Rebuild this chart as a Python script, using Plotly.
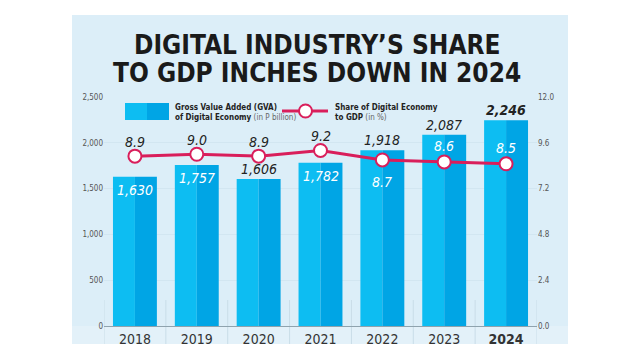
import plotly.graph_objects as go

years = ["2018", "2019", "2020", "2021", "2022", "2023", "2024"]
gva = [1630, 1757, 1606, 1782, 1918, 2087, 2246]
share = [8.9, 9.0, 8.9, 9.2, 8.7, 8.6, 8.5]
gva_ticks = [0, 500, 1000, 1500, 2000, 2500]
share_ticks = [0.0, 2.4, 4.8, 7.2, 9.6, 12.0]

# label styles (placement), not data
gva_label_style = ["in", "in", "out", "in", "out", "out", "out"]
share_label_style = ["above", "above", "above", "above", "below_in", "above_in", "above_in"]

FONT = "Liberation Sans Narrow, DejaVu Sans Condensed, Roboto, sans-serif"
LIGHT = "#0DBDF2"
DARK = "#00A5E5"
PINK = "#D91E5B"

# page body has an 8px margin: work in reference pixel coords minus 8
OFF = 8
W, H = 640 - OFF, 360 - OFF
L = 104 - OFF
T = 97 - OFF
R = W - (537 - OFF)
B = H - (326 - OFF)
pw, ph = W - L - R, H - T - B


def px(x):
    return (x - OFF - L) / pw


def py(y):
    return (H - B - (y - OFF)) / ph


fig = go.Figure()
fig.add_trace(go.Bar(x=years, y=gva, marker_color=LIGHT, marker_line_width=0,
                     width=0.355, offset=-0.355, showlegend=False, hoverinfo="skip"))
fig.add_trace(go.Bar(x=years, y=gva, marker_color=DARK, marker_line_width=0,
                     width=0.355, offset=0.0, showlegend=False))
fig.add_trace(go.Scatter(x=years, y=share, yaxis="y2", mode="lines+markers",
                         line=dict(color=PINK, width=3),
                         marker=dict(size=13, color="white", line=dict(color=PINK, width=2)),
                         showlegend=False))

LBL = 14
ann = []
for i, v in enumerate(gva):
    last = i == len(years) - 1
    txt = f"{v:,}"
    if last:
        txt = f"<b>{txt}</b>"
    if gva_label_style[i] == "in":
        ann.append(dict(x=i, y=v, xref="x", yref="y", text=f"<i>{txt}</i>", showarrow=False,
                        yanchor="top", yshift=-3, font=dict(family=FONT, size=LBL, color="white")))
    else:
        ann.append(dict(x=i, y=v, xref="x", yref="y", text=f"<i>{txt}</i>", showarrow=False,
                        yanchor="bottom", yshift=0, font=dict(family=FONT, size=LBL, color="#222")))
for i, s in enumerate(share):
    st = share_label_style[i]
    txt = f"<i>{s:.1f}</i>"
    if st == "above":
        ann.append(dict(x=i, y=s, xref="x", yref="y2", text=txt, showarrow=False,
                        yanchor="bottom", yshift=4, font=dict(family=FONT, size=LBL, color="#222")))
    elif st == "above_in":
        ann.append(dict(x=i, y=s, xref="x", yref="y2", text=txt, showarrow=False,
                        yanchor="bottom", yshift=6, font=dict(family=FONT, size=LBL, color="white")))
    else:
        ann.append(dict(x=i, y=s, xref="x", yref="y2", text=txt, showarrow=False,
                        yanchor="top", yshift=-12, font=dict(family=FONT, size=LBL, color="white")))

# Title
ann.append(dict(x=px(317), y=py(45), xref="paper", yref="paper", yanchor="middle",
                text="<b>DIGITAL INDUSTRY\u2019S SHARE</b>",
                showarrow=False, font=dict(family=FONT, size=26, color="#1a1a1a")))
ann.append(dict(x=px(317), y=py(73), xref="paper", yref="paper", yanchor="middle",
                text="<b>TO GDP INCHES DOWN IN 2024</b>",
                showarrow=False, font=dict(family=FONT, size=26, color="#1a1a1a")))

# Legend texts
leg_font = dict(family=FONT, size=8, color="#222")
ann.append(dict(x=px(173), y=py(107), xref="paper", yref="paper", xanchor="left", yanchor="middle",
                text="<b>Gross Value Added (GVA)</b>", showarrow=False, font=leg_font))
ann.append(dict(x=px(173), y=py(117), xref="paper", yref="paper", xanchor="left", yanchor="middle",
                text="<b>of Digital Economy</b> <span style='color:#666'>(in P billion)</span>",
                showarrow=False, font=leg_font))
ann.append(dict(x=px(333), y=py(107), xref="paper", yref="paper", xanchor="left", yanchor="middle",
                text="<b>Share of Digital Economy</b>", showarrow=False, font=leg_font))
ann.append(dict(x=px(333), y=py(117), xref="paper", yref="paper", xanchor="left", yanchor="middle",
                text="<b>to GDP</b> <span style='color:#666'>(in %)</span>", showarrow=False,
                font=leg_font))

shapes = [
    dict(type="rect", xref="paper", yref="paper", x0=px(72), x1=px(568), y0=py(344), y1=py(15),
         fillcolor="#DCEEF8", line_width=0, layer="below"),
    dict(type="rect", xref="paper", yref="paper", x0=px(72), x1=px(568), y0=py(344), y1=py(326),
         fillcolor="#E3F1F9", line_width=0, layer="below"),
    dict(type="rect", xref="paper", yref="paper", x0=px(125), x1=px(147), y0=py(120), y1=py(103),
         fillcolor=LIGHT, line_width=0),
    dict(type="rect", xref="paper", yref="paper", x0=px(147), x1=px(169), y0=py(120), y1=py(103),
         fillcolor=DARK, line_width=0),
    dict(type="line", xref="paper", yref="paper", x0=px(282), x1=px(328), y0=py(111), y1=py(111),
         line=dict(color=PINK, width=3)),
    dict(type="circle", xref="paper", yref="paper", x0=px(299), x1=px(312), y0=py(117.5), y1=py(104.5),
         fillcolor="white", line=dict(color=PINK, width=2)),
]
for k in range(len(years) + 1):
    shapes.append(dict(type="line", xref="x", yref="paper", x0=k - 0.5, x1=k - 0.5,
                       y0=py(344), y1=py(300), line=dict(color="#C9DDE8", width=1), layer="below"))

fig.update_layout(
    width=W, height=H,
    margin=dict(l=L, r=R, t=T, b=B),
    paper_bgcolor="white", plot_bgcolor="rgba(0,0,0,0)",
    barmode="overlay",
    showlegend=False,
    annotations=ann, shapes=shapes,
    xaxis=dict(type="category", range=[-0.5, 6.5], showgrid=False,
               tickvals=years, ticktext=years[:-1] + ["<b>2024</b>"],
               tickfont=dict(family=FONT, size=14, color="#333"),
               showline=True, linecolor="#8FA3AE", linewidth=1, ticks=""),
    yaxis=dict(range=[0, 2500], tickvals=gva_ticks, tickformat=",d",
               tickfont=dict(family=FONT, size=8, color="#555"),
               showgrid=True, gridcolor="#D2E6F1", zeroline=False, ticks="", ticklen=0),
    yaxis2=dict(range=[0, 12], tickvals=share_ticks, tickformat=".1f", overlaying="y", side="right",
                tickfont=dict(family=FONT, size=8, color="#555"), showgrid=False, zeroline=False),
)

fig.write_html("out.html")
